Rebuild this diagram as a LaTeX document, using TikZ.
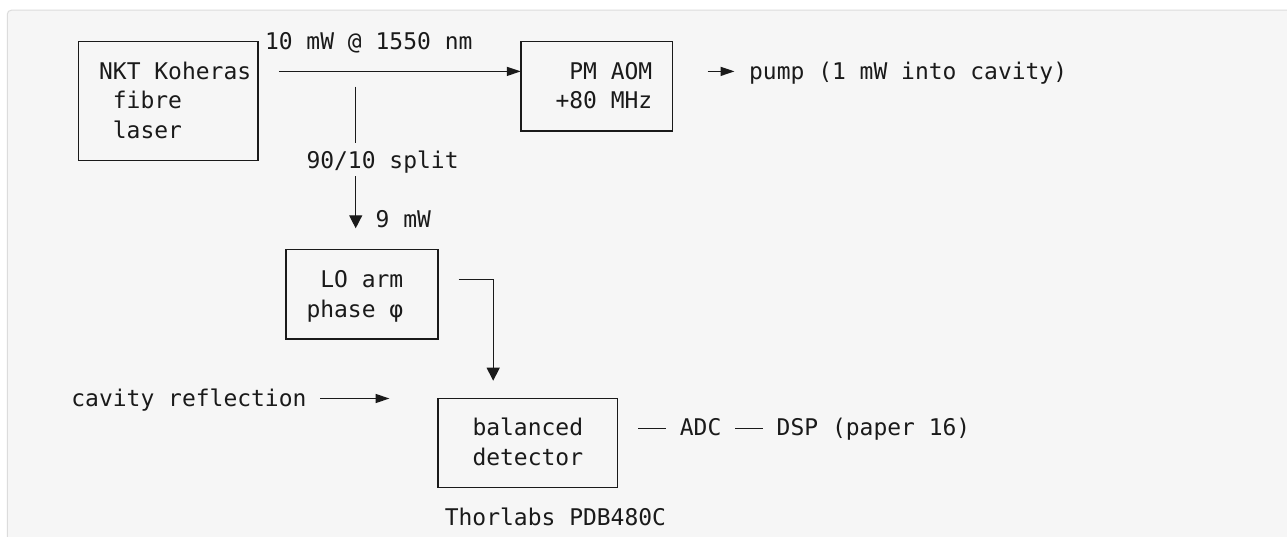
\documentclass[tikz,border=0pt]{standalone}
\usepackage{fontspec}
\newfontfamily\monofam{DejaVu Sans Mono}
\usetikzlibrary{arrows.meta,calc}
\definecolor{ink}{HTML}{1A1A1A}
\definecolor{codebg}{HTML}{F6F6F6}
\definecolor{codeborder}{HTML}{DCDCDC}
\begin{document}
\begin{tikzpicture}[x=1pt,y=-1pt,
  box/.style={draw=ink,line width=1.4pt,rectangle,inner sep=0pt,outer sep=0pt},
  txt/.style={font=\monofam\fontsize{22.97}{29.73}\selectfont,text=ink,anchor=base west,inner sep=0pt,outer sep=0pt},
  wire/.style={draw=ink,line width=1.4pt},
  tipR/.style={-{Triangle[length=14pt,width=9pt]}},
  tipD/.style={-{Triangle[length=13pt,width=13pt]}}]
\path[use as bounding box] (0,0) rectangle (1287,537);
\begin{scope}
  \clip (0,0) rectangle (1287,537);
  \fill[white] (0,0) rectangle (1287,537);
  \filldraw[fill=codebg,draw=codeborder,line width=1pt,rounded corners=4pt] (7.3,10.2) rectangle (1330,600);
\end{scope}

% boxes
\node[box,minimum width=179.8pt,minimum height=118.9pt] (laser) at (168.2,101.15) {};
\node[box,minimum width=151.8pt,minimum height=89.2pt] (pm) at (596.7,86.3) {};
\node[box,minimum width=152.1pt,minimum height=89.2pt] (lo) at (361.85,294.4) {};
\node[box,minimum width=179.8pt,minimum height=89.2pt] (det) at (527.8,443.1) {};

% texts
\node[txt] (laserA) at (99.1,79.1) {NKT Koheras};
\node[txt] (laserB) at (112.9,108.9) {fibre};
\node[txt] (laserC) at (112.9,138.6) {laser};
\node[txt] (power) at (265.0,49.4) {10 mW @ 1550 nm};
\node[txt] (pmA) at (569.3,79.1) {PM AOM};
\node[txt] (pmB) at (555.5,108.9) {+80 MHz};
\node[txt] (pump) at (749.1,79.1) {pump (1 mW into cavity)};
\node[txt] (split) at (306.5,168.3) {90/10 split};
\node[txt] (nine) at (375.7,227.8) {9 mW};
\node[txt] (loA) at (320.3,287.2) {LO arm};
\node[txt] (loB) at (306.5,317.0) {phase φ};
\node[txt] (cav) at (71.4,406.2) {cavity reflection};
\node[txt] (detA) at (472.5,435.9) {balanced};
\node[txt] (detB) at (472.5,465.6) {detector};
\node[txt] (adc) at (679.9,435.9) {ADC};
\node[txt] (dsp) at (776.7,435.9) {DSP (paper 16)};
\node[txt] (thor) at (444.8,525.1) {Thorlabs PDB480C};

% helper coordinates
\coordinate (r1) at (0,71.4);
\coordinate (tap) at (355.7,71.4);
\coordinate (r8) at (0,279.5);
\coordinate (drop) at (493.2,0);
\coordinate (r13) at (0,428.2);

% connectors
\draw[wire,tipR,shorten <=20.8pt] (laser.east |- r1) -- (pm.west |- r1);
\draw[wire,tipR,shorten <=35pt,shorten >=14.6pt] (pm.east |- r1) -- (pump.west |- r1);
\draw[wire,shorten <=15.3pt,shorten >=7.5pt] (tap) -- (tap |- split.north);
\draw[wire,tipD,shorten <=3pt,shorten >=21.5pt] (tap |- split.south) -- (tap |- lo.north);
\draw[wire,tipD,shorten <=20.7pt,shorten >=17.8pt] (lo.east |- r8) -| (drop |- det.north);
\draw[wire,tipR,shorten <=13.8pt,shorten >=48.4pt] (cav.east |- det.north) -- (det.north west);
\draw[wire,shorten <=20.7pt,shorten >=13.8pt] (det.east |- r13) -- (adc.west |- r13);
\draw[wire,shorten <=13.8pt,shorten >=13.8pt] (adc.east |- r13) -- (dsp.west |- r13);
\end{tikzpicture}
\end{document}
